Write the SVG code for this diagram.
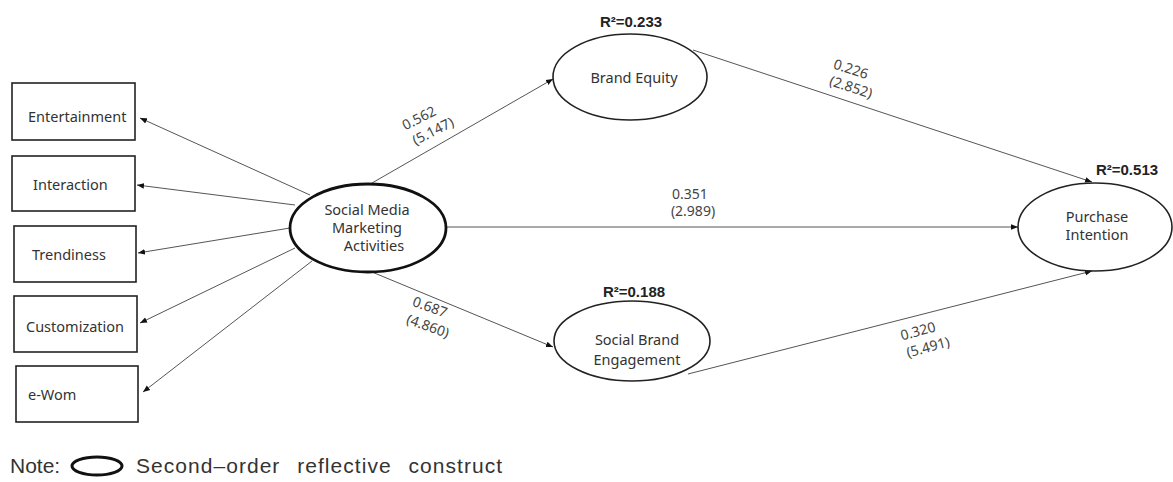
<svg xmlns="http://www.w3.org/2000/svg" width="1173" height="482" viewBox="0 0 1173 482">
  <style>
    .box { fill: #fff; stroke: #222; stroke-width: 1.6; }
    .lv { fill: #fff; stroke: #222; stroke-width: 1.6; }
    .lv2 { fill: #fff; stroke: #111; stroke-width: 2.8; }
    .lbl { font-family: "Noto Sans", "Open Sans", sans-serif; font-size: 14.5px; fill: #333; text-anchor: middle; }
    .lbl-l { font-family: "Noto Sans", "Open Sans", sans-serif; font-size: 14.5px; fill: #333; }
    .coef { font-family: "Noto Sans", "Open Sans", sans-serif; font-size: 14px; fill: #444; text-anchor: middle; }
    .r2 { font-family: "Liberation Sans", Arial, sans-serif; font-size: 15px; font-weight: bold; fill: #222; text-anchor: middle; }
    .note { font-family: "Liberation Sans", Arial, sans-serif; font-size: 21px; fill: #333; }
    .edge { stroke: #555; stroke-width: 1; fill: none; marker-end: url(#arr); }
  </style>
  <defs>
    <marker id="arr" viewBox="0 0 10 10" refX="10" refY="5" markerWidth="7" markerHeight="7" markerUnits="userSpaceOnUse" orient="auto">
      <path d="M0,1 L10,5 L0,9 z" fill="#111"/>
    </marker>
  </defs>

  <rect width="1173" height="482" fill="#fff"/>

  <!-- connectors -->
  <g id="connectors">
    <line class="edge" x1="310" y1="195" x2="140" y2="118"/>
    <line class="edge" x1="295" y1="205" x2="137" y2="185"/>
    <line class="edge" x1="290" y1="228" x2="138" y2="253"/>
    <line class="edge" x1="295" y1="248" x2="140" y2="323"/>
    <line class="edge" x1="312" y1="261" x2="143" y2="392"/>
    <line class="edge" x1="372" y1="183" x2="553" y2="79"/>
    <line class="edge" x1="372" y1="272" x2="553" y2="347"/>
    <line class="edge" x1="446" y1="227" x2="1018" y2="227"/>
    <line class="edge" x1="693" y1="50" x2="1092" y2="182"/>
    <line class="edge" x1="688" y1="374" x2="1092" y2="271"/>

    <!-- path coefficients (t-values) -->
    <g class="coef">
      <text transform="translate(419,118) rotate(-27)" y="5">0.562</text>
      <text transform="translate(433,131) rotate(-27)" y="5">(5.147)</text>
      <text transform="translate(430,307) rotate(20)" y="5">0.687</text>
      <text transform="translate(428,326) rotate(20)" y="5">(4.860)</text>
      <text x="690" y="199">0.351</text>
      <text x="693" y="216">(2.989)</text>
      <text transform="translate(851,69) rotate(18)" y="5">0.226</text>
      <text transform="translate(851,87) rotate(18)" y="5">(2.852)</text>
      <text transform="translate(918,331) rotate(-15)" y="5">0.320</text>
      <text transform="translate(928,347) rotate(-15)" y="5">(5.491)</text>
    </g>
  </g>

  <!-- indicator boxes -->
  <g id="entertainment">
    <rect class="box" x="12" y="83" width="123" height="57"/>
    <text class="lbl-l" x="28" y="122">Entertainment</text>
  </g>
  <g id="interaction">
    <rect class="box" x="12" y="156" width="123" height="55"/>
    <text class="lbl-l" x="33" y="190">Interaction</text>
  </g>
  <g id="trendiness">
    <rect class="box" x="14" y="226" width="122" height="56"/>
    <text class="lbl-l" x="32" y="260">Trendiness</text>
  </g>
  <g id="customization">
    <rect class="box" x="14" y="296" width="123" height="56"/>
    <text class="lbl-l" x="26" y="332">Customization</text>
  </g>
  <g id="ewom">
    <rect class="box" x="16" y="366" width="122" height="56"/>
    <text class="lbl-l" x="28" y="400">e-Wom</text>
  </g>

  <!-- latent constructs -->
  <g id="smma">
    <ellipse class="lv2" cx="368" cy="228" rx="78" ry="44"/>
    <text class="lbl" x="367" y="215">Social Media</text>
    <text class="lbl" x="367" y="233">Marketing</text>
    <text class="lbl" x="374" y="251">Activities</text>
  </g>
  <g id="brand-equity">
    <ellipse class="lv" cx="630" cy="77" rx="77" ry="43"/>
    <text class="lbl" x="634" y="83">Brand Equity</text>
    <text class="r2" x="631" y="27">R²=0.233</text>
  </g>
  <g id="social-brand-engagement">
    <ellipse class="lv" cx="632" cy="341" rx="78" ry="40"/>
    <text class="lbl" x="637" y="345">Social Brand</text>
    <text class="lbl" x="637" y="365">Engagement</text>
    <text class="r2" x="634" y="297">R²=0.188</text>
  </g>
  <g id="purchase-intention">
    <ellipse class="lv" cx="1095" cy="227" rx="77" ry="44"/>
    <text class="lbl" x="1097" y="222">Purchase</text>
    <text class="lbl" x="1097" y="240">Intention</text>
    <text class="r2" x="1127" y="175">R²=0.513</text>
  </g>

  <!-- legend -->
  <g id="legend">
    <text class="note" x="10" y="473">Note:</text>
    <ellipse cx="97" cy="466" rx="25" ry="9" fill="none" stroke="#111" stroke-width="3"/>
    <text class="note" x="136" y="473" style="word-spacing:10px" textLength="366" lengthAdjust="spacing">Second–order reflective construct</text>
  </g>
</svg>
